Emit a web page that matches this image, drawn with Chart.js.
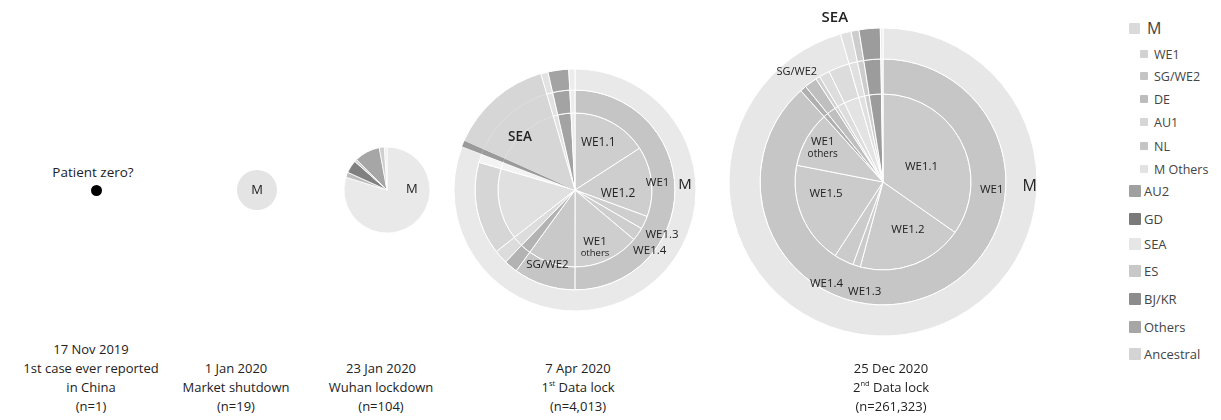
<!DOCTYPE html>
<html><head><meta charset="utf-8">
<script src="https://cdn.jsdelivr.net/npm/chart.js@4.4.1/dist/chart.umd.min.js"></script>
<style>
html,body{margin:0;padding:0;background:#fff;}
#wrap{position:relative;width:1221px;height:420px;overflow:hidden;font-family:"Open Sans",sans-serif;color:#222;}
canvas{position:absolute;}
.cap{position:absolute;bottom:4px;text-align:center;font-size:13px;line-height:19px;white-space:nowrap;transform:translateX(-50%);color:#222;}
.cap sup{font-size:7.5px;line-height:0;position:relative;top:-1px;vertical-align:super;}
.lgrow{position:absolute;display:flex;align-items:center;white-space:nowrap;color:#444;}
.sw{display:inline-block;border-radius:1px;}
.pzl{position:absolute;font-size:13.5px;transform:translate(-50%,-50%);white-space:nowrap;color:#222;}
</style></head><body><div id="wrap"></div>
<script>
// ---------------- DATA ----------------
const timepointDates = ['17 Nov 2019','1 Jan 2020','23 Jan 2020','7 Apr 2020','25 Dec 2020'];
const timepointEvents = [['1st case ever reported','in China'],['Market shutdown'],['Wuhan lockdown'],['1^st Data lock'],['2^nd Data lock']];
const sampleSizes = [1,19,104,4013,261323];

// 17 Nov 2019 – patient zero
const pzCats = ['Patient zero?'];
const pzValues = [1];

// 1 Jan 2020
const jan1Cats = ['M'];
const jan1Values = [19];

// 23 Jan 2020
const jan23Cats = ['M','ES','GD','SEA','AU2','Others','Ancestral'];
const jan23Values = [83,2,5,1,10,2,1];

// 7 Apr 2020 (inner = sub-lineages, mid = lineages, outer = clades)
const apr7InnerCats = ['WE1.1','WE1.2','WE1.3','WE1.4','WE1 others','SG/WE2','NL','AU1','M Others','DE','GD','SEA','ES','Others','Ancestral'];
const apr7InnerValues = [637,591,111,111,557,401,89,89,603,56,33,552,39,111,33];
const apr7MidCats = ['WE1','SG/WE2','NL','AU1','M Others','DE','GD','SEA','ES','Others','Ancestral'];
const apr7MidValues = [2007,401,89,89,603,56,33,552,39,111,33];
const apr7OuterCats = ['M','GD','SEA','ES','Others','Ancestral'];
const apr7OuterValues = [3245,33,552,39,111,33];

// 25 Dec 2020
const dec25InnerCats = ['WE1.1','WE1.2','WE1.3','WE1.4','WE1.5','WE1 others','DE','SG/WE2','NL','AU1','M Others','SEA','ES','Others','Ancestral'];
const dec25InnerValues = [90735,50813,3630,9437,49361,26858,2178,4355,1452,3630,7259,2904,2178,5807,726];
const dec25MidCats = ['WE1','DE','SG/WE2','NL','AU1','M Others','SEA','ES','Others','Ancestral'];
const dec25MidValues = [230834,2178,4355,1452,3630,7259,2904,2178,5807,726];
const dec25OuterCats = ['M','SEA','ES','Others','Ancestral'];
const dec25OuterValues = [249708,2904,2178,5807,726];

// legend
const legendLabels = ['M','WE1','SG/WE2','DE','AU1','NL','M Others','AU2','GD','SEA','ES','BJ/KR','Others','Ancestral'];
const legendLevels = [0,1,1,1,1,1,1,2,2,2,2,2,2,2];

// ---------------- STYLES ----------------
const pzColors = ['#000000'];
const jan1Colors = ['#e4e4e4'];
const jan23Colors = ['#e9e9e9','#bdbdbd','#808080','#d2d2d2','#a6a6a6','#cfcfcf','#eeeeee'];
const apr7InnerColors = ['#cecece','#cecece','#cecece','#cecece','#cecece','#c9c9c9','#b3b3b3','#dcdcdc','#e0e0e0','#f3f3f3','#9a9a9a','#d6d6d6','#e2e2e2','#a3a3a3','#ececec'];
const apr7MidColors = ['#c5c5c5','#c5c5c5','#b3b3b3','#dcdcdc','#d6d6d6','#f3f3f3','#9a9a9a','#d6d6d6','#e2e2e2','#a3a3a3','#ececec'];
const apr7OuterColors = ['#e9e9e9','#9a9a9a','#d6d6d6','#e2e2e2','#a3a3a3','#ececec'];
const apr7InnerBorders = [1,1,1,1,1,1,1,1,1,1,0,0,1,1,1];
const apr7MidBorders = [1,1,1,1,1,1,0,0,1,1,1];
const apr7OuterBorders = [1,0,0,1,1,1];
const dec25InnerColors = ['#cbcbcb','#cbcbcb','#cbcbcb','#cbcbcb','#cbcbcb','#cbcbcb','#b0b0b0','#bfbfbf','#d0d0d0','#dddddd','#e3e3e3','#e0e0e0','#cdcdcd','#9c9c9c','#eeeeee'];
const dec25MidColors = ['#c6c6c6','#b0b0b0','#bfbfbf','#d0d0d0','#dddddd','#dcdcdc','#e0e0e0','#cdcdcd','#9c9c9c','#eeeeee'];
const dec25OuterColors = ['#e7e7e7','#e0e0e0','#cdcdcd','#9c9c9c','#eeeeee'];
const legendColors = ['#dadada','#d2d2d2','#c4c4c4','#bcbcbc','#d6d6d6','#c4c4c4','#e2e2e2','#a0a0a0','#7a7a7a','#e6e6e6','#c8c8c8','#8c8c8c','#a6a6a6','#d4d4d4'];

// ---------------- LAYOUT ----------------
const wrap = document.getElementById('wrap');
const FONT = '"Open Sans", sans-serif';

const arcLabels = {
  id: 'arcLabels',
  afterDatasetsDraw(chart, args, opts) {
    const ctx = chart.ctx;
    ctx.save();
    ctx.textAlign = 'center';
    ctx.textBaseline = 'middle';
    ctx.fillStyle = '#222';
    (opts.items || []).forEach(it => {
      const arc = chart.getDatasetMeta(it.ring).data[it.index];
      if (!arc) return;
      const p = arc.getProps(['x','y','startAngle','endAngle','innerRadius','outerRadius'], true);
      const a = p.startAngle + (p.endAngle - p.startAngle) * (it.af ?? 0.5);
      const r = p.innerRadius + (p.outerRadius - p.innerRadius) * (it.rf ?? 0.5);
      const x = p.x + Math.cos(a) * r, y = p.y + Math.sin(a) * r;
      const sizes = it.sizes;
      const total = sizes.reduce((s, v) => s + v * 1.1, 0);
      let yy = y - total / 2;
      it.text.forEach((ln, i) => {
        const fs = sizes[i];
        ctx.font = `${it.weight || 400} ${fs}px ${FONT}`;
        ctx.fillText(ln, x, yy + fs * 0.55);
        yy += fs * 1.1;
      });
    });
    ctx.restore();
  }
};

function makePie(cx, cy, R, margin, rings, labelItems) {
  const size = Math.ceil(2 * (R + margin));
  const c = document.createElement('canvas');
  c.width = size; c.height = size;
  c.style.width = size + 'px'; c.style.height = size + 'px';
  c.style.left = (cx - size / 2) + 'px';
  c.style.top = (cy - size / 2) + 'px';
  wrap.appendChild(c);
  new Chart(c.getContext('2d'), {
    type: 'doughnut',
    data: {
      labels: rings[rings.length - 1].cats,
      datasets: rings.map(rg => ({
        data: rg.values,
        backgroundColor: rg.colors,
        borderColor: '#ffffff',
        borderWidth: rg.border ?? 1,
        weight: rg.weight
      }))
    },
    options: {
      responsive: false,
      animation: false,
      events: [],
      cutout: 0,
      radius: R,
      layout: { padding: 0 },
      plugins: {
        legend: { display: false },
        tooltip: { enabled: false },
        arcLabels: { items: labelItems || [] }
      }
    },
    plugins: [arcLabels]
  });
}

// patient zero
makePie(96, 190, 5.5, 3, [{cats: pzCats, values: pzValues, colors: pzColors, weight: 1, border: 0}], []);
// 1 Jan
makePie(257, 190, 20, 4, [{cats: jan1Cats, values: jan1Values, colors: jan1Colors, weight: 1, border: 0}],
  [{ring: 0, index: 0, text: ['M'], sizes: [13], rf: 0}]);
// 23 Jan
makePie(387, 190, 43, 4, [{cats: jan23Cats, values: jan23Values, colors: jan23Colors, weight: 1, border: 0.8}],
  [{ring: 0, index: 0, text: ['M'], sizes: [13], af: 0.31, rf: 0.58}]);
// 7 Apr
makePie(575, 190, 121, 10, [
  {cats: apr7OuterCats, values: apr7OuterValues, colors: apr7OuterColors, weight: 21, border: apr7OuterBorders},
  {cats: apr7MidCats, values: apr7MidValues, colors: apr7MidColors, weight: 23, border: apr7MidBorders},
  {cats: apr7InnerCats, values: apr7InnerValues, colors: apr7InnerColors, weight: 77, border: apr7InnerBorders}
], [
  {ring: 2, index: 0, text: ['WE1.1'], sizes: [12], af: 0.46, rf: 0.68},
  {ring: 2, index: 1, text: ['WE1.2'], sizes: [12], af: 0.7, rf: 0.56},
  {ring: 2, index: 2, text: ['WE1.3'], sizes: [11.5], af: 0.7, rf: 1.27},
  {ring: 2, index: 3, text: ['WE1.4'], sizes: [11.5], af: 0.9, rf: 1.25},
  {ring: 2, index: 4, text: ['WE1', 'others'], sizes: [11.5, 9.5], af: 0.61, rf: 0.78},
  {ring: 2, index: 5, text: ['SG/WE2'], sizes: [11.5], af: 0.56, rf: 1.04},
  {ring: 2, index: 11, text: ['SEA'], sizes: [13.5], weight: 600, af: 0.4, rf: 0.99},
  {ring: 1, index: 0, text: ['WE1'], sizes: [11.5], af: 0.47, rf: 0.26},
  {ring: 0, index: 0, text: ['M'], sizes: [15], af: 0.3, rf: 0.48}
]);
// 25 Dec
makePie(883, 182, 154, 30, [
  {cats: dec25OuterCats, values: dec25OuterValues, colors: dec25OuterColors, weight: 31},
  {cats: dec25MidCats, values: dec25MidValues, colors: dec25MidColors, weight: 35},
  {cats: dec25InnerCats, values: dec25InnerValues, colors: dec25InnerColors, weight: 88}
], [
  {ring: 2, index: 0, text: ['WE1.1'], sizes: [11.5], af: 0.55, rf: 0.47},
  {ring: 2, index: 1, text: ['WE1.2'], sizes: [11.5], af: 0.39, rf: 0.61},
  {ring: 2, index: 2, text: ['WE1.3'], sizes: [11.5], af: -1.1, rf: 1.26},
  {ring: 2, index: 3, text: ['WE1.4'], sizes: [11.5], af: 0.7, rf: 1.32},
  {ring: 2, index: 4, text: ['WE1.5'], sizes: [11.5], af: 0.67, rf: 0.66},
  {ring: 2, index: 5, text: ['WE1', 'others'], sizes: [11.5, 10], af: 0.51, rf: 0.79},
  {ring: 1, index: 2, text: ['SG/WE2'], sizes: [11], af: 0.17, rf: 1.49},
  {ring: 0, index: 1, text: ['SEA'], sizes: [15], weight: 600, af: -0.1, rf: 1.54},
  {ring: 1, index: 0, text: ['WE1'], sizes: [11.5], af: 0.296, rf: 0.6},
  {ring: 0, index: 0, text: ['M'], sizes: [16], af: 0.267, rf: 0.77}
]);

// "Patient zero?" label
const pzl = document.createElement('div');
pzl.className = 'pzl'; pzl.textContent = pzCats[0];
pzl.style.left = '93px'; pzl.style.top = '172px';
wrap.appendChild(pzl);

// captions
const captionX = [91, 236, 381, 578, 891];
timepointDates.forEach((d, i) => {
  const div = document.createElement('div');
  div.className = 'cap';
  div.style.left = captionX[i] + 'px';
  const lines = [d, ...timepointEvents[i], '(n=' + sampleSizes[i].toLocaleString('en-US') + ')'];
  div.innerHTML = lines.map(l => l.replace(/\^(\w+)/, '<sup>$1</sup>')).join('<br>');
  wrap.appendChild(div);
});

// legend
const legendY = [28,54,76,99,122,146,169,191,219,244,271,299,327,354];
legendLabels.forEach((lab, i) => {
  const lvl = legendLevels[i];
  const row = document.createElement('div');
  row.className = 'lgrow';
  const sw = document.createElement('span');
  sw.className = 'sw';
  const txt = document.createElement('span');
  txt.textContent = lab;
  let sz, left, fs, gap;
  if (lvl === 0) { sz = 11; left = 1129; fs = 16; gap = 7; }
  else if (lvl === 1) { sz = 8; left = 1140; fs = 12.5; gap = 6; }
  else { sz = 12; left = 1129; fs = 13; gap = 3; }
  sw.style.width = sz + 'px'; sw.style.height = sz + 'px';
  sw.style.background = legendColors[i];
  sw.style.marginRight = gap + 'px';
  txt.style.fontSize = fs + 'px';
  row.style.left = left + 'px';
  row.style.top = (legendY[i] - 10) + 'px';
  row.style.height = '20px';
  row.appendChild(sw); row.appendChild(txt);
  wrap.appendChild(row);
});
</script>
</body></html>
